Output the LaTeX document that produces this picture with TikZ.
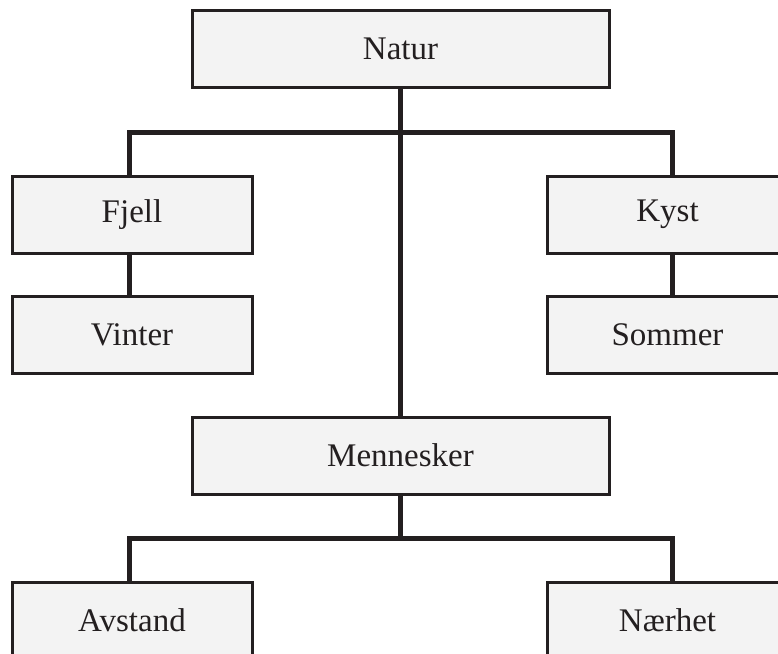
\documentclass[tikz,border=0pt]{standalone}
\usepackage{fontspec}
\setmainfont{Liberation Serif}
\usetikzlibrary{backgrounds}
\definecolor{ink}{HTML}{231F20}
\definecolor{boxfill}{HTML}{F3F3F3}
\tikzset{
  topic/.style={draw=ink, fill=boxfill, line width=3pt, rectangle,
    inner sep=0pt, outer sep=0pt, text=ink, font=\fontsize{33}{36}\selectfont},
  wide/.style={topic, minimum width=417pt, minimum height=77pt},
  narrow/.style={topic, minimum width=240pt, minimum height=77pt},
  link/.style={draw=ink, line width=5pt, line join=miter}
}
\begin{document}
\begin{tikzpicture}[x=1pt,y=-1pt]
  \useasboundingbox (0,0) rectangle (778,653);
  \clip (0,0) rectangle (778,653);

  % boxes
  \node[wide]   (natur)  at (400.5,48.5)  {Natur};
  \node[narrow] (fjell)  at (132,214.5)   {Fjell};
  \node[narrow] (vinter) at (132,334.5)   {Vinter};
  \node[narrow] (kyst)   at (667.5,214.5) {Kyst};
  \node[narrow] (sommer) at (667.5,334.5) {Sommer};
  \node[wide]   (menn)   at (400.5,455.5) {Mennesker};
  \node[narrow] (avst)   at (132,620.5)   {Avstand};
  \node[narrow] (naer)   at (667.5,620.5) {Nærhet};

  % connectors, beneath the boxes
  \begin{scope}[on background layer]
    \fill[white] (0,0) rectangle (778,653);
    \coordinate (bus1) at (400.5,132);
    \coordinate (bus2) at (400.5,538);
    \draw[link] (natur.south) -- (menn.north);
    \draw[link] ([xshift=-2.5pt]fjell.north) |- (bus1) -| ([xshift=4.5pt]kyst.north);
    \draw[link] ([xshift=-2.5pt]fjell.south) -- ([xshift=-2.5pt]vinter.north);
    \draw[link] ([xshift=4.5pt]kyst.south) -- ([xshift=4.5pt]sommer.north);
    \draw[link] (menn.south) -- (bus2);
    \draw[link] ([xshift=-2.5pt]avst.north) |- (bus2) -| ([xshift=4.5pt]naer.north);
  \end{scope}
\end{tikzpicture}
\end{document}
